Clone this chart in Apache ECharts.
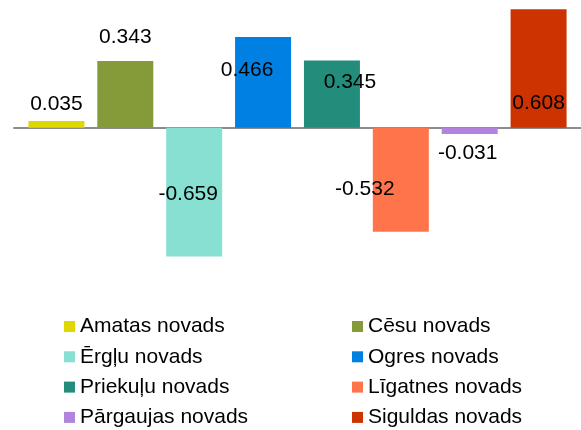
<!DOCTYPE html>
<html>
<head>
<meta charset="utf-8">
<script src="https://cdn.jsdelivr.net/npm/echarts@6/dist/echarts.min.js"></script>
<style>
html, body { margin: 0; padding: 0; background: #fff; }
#chart { width: 581px; height: 430px; }
</style>
</head>
<body>
<div id="chart"></div>
<script>
// novadi un vērtības
const names = ['Amatas novads', 'Cēsu novads', 'Ērgļu novads', 'Ogres novads',
  'Priekuļu novads', 'Līgatnes novads', 'Pārgaujas novads', 'Siguldas novads']
const values = [0.035, 0.343, -0.659, 0.466, 0.345, -0.532, -0.031, 0.608]

const colors = ['#E1D700', '#859B3A', '#87E0D2', '#0080E2', '#238C7B', '#FF744A', '#B084DD', '#CC3300']
// datu etiķešu nobīde no stabiņa centra (kā Excel oriģinālā)
const labelOffsets = [[0, -20], [0, -57], [-6, 2], [-16, -12], [18, -12], [-36, 9], [-2, 22], [0, 35]]

const chart = echarts.init(document.getElementById('chart'))

const series = names.map((n, i) => ({
  name: n,
  type: 'bar',
  barWidth: 56,
  barGap: '23%',
  data: [values[i]],
  itemStyle: { color: colors[i] },
  label: {
    show: true,
    position: 'inside',
    offset: labelOffsets[i],
    color: '#000',
    fontFamily: 'Liberation Sans, Arial, sans-serif',
    fontSize: 21,
    formatter: p => p.value.toFixed(3)
  }
}))

const legendText = {
  fontFamily: 'Liberation Sans, Arial, sans-serif',
  fontSize: 21,
  lineHeight: 21,
  color: '#000'
}

const legendBase = {
  orient: 'vertical',
  top: 316,
  height: 114,
  padding: 0,
  icon: 'rect',
  itemWidth: 11,
  itemHeight: 11,
  itemGap: 9.3,
  textStyle: legendText
}

chart.setOption({
  animation: false,
  grid: { left: 14, right: 0, top: 1, bottom: 107, containLabel: false },
  xAxis: {
    type: 'category',
    data: [''],
    axisLine: { lineStyle: { color: '#8c8c8c', width: 2 } },
    axisTick: { show: false },
    axisLabel: { show: false }
  },
  yAxis: {
    type: 'value',
    min: -1,
    max: 0.65,
    show: false,
    splitLine: { show: false }
  },
  legend: [
    Object.assign({}, legendBase, { left: 64, data: [names[0], names[2], names[4], names[6]] }),
    Object.assign({}, legendBase, { left: 352, data: [names[1], names[3], names[5], names[7]] })
  ],
  series: series
})
</script>
</body>
</html>
